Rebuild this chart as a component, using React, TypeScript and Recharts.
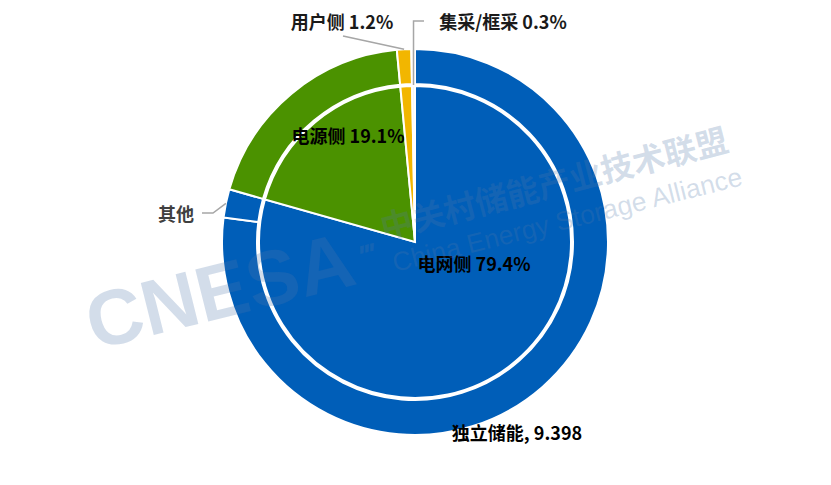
import React from 'react';
import { PieChart, Pie, Cell } from 'recharts';

// Inner pie: share by application side (%)
const innerNames = ['电网侧', '电源侧', '用户侧', '集采/框采'];
const innerShares = [79.4, 19.1, 1.2, 0.3];

// Outer ring: grid side split into independent storage and others (GWh)
const outerNames = ['独立储能', '其他', '电源侧', '用户侧', '集采/框采'];
const outerValues = [9.398, 0.29, 2.33, 0.146, 0.037];

const colorByName: Record<string, string> = {
  电网侧: '#005EB8',
  独立储能: '#005EB8',
  其他: '#005EB8',
  电源侧: '#4B9200',
  用户侧: '#F2B600',
  '集采/框采': '#F4F4F4',
};

const innerData = innerNames.map((name, i) => ({ name, value: innerShares[i] }));
const outerData = outerNames.map((name, i) => ({ name, value: outerValues[i] }));

const FONT = '"Noto Sans CJK SC", "Noto Sans", sans-serif';
const RAD = Math.PI / 180;
const OUTER_R = 193;
const INNER_R = 156;
const LINE = '#A6A6A6';

const pt = (cx: number, cy: number, r: number, a: number) => ({
  x: cx + r * Math.cos(-a * RAD),
  y: cy + r * Math.sin(-a * RAD),
});

const txt = (x: number, y: number, s: string, fill = '#000') => (
  <text
    x={x}
    y={y}
    textAnchor="middle"
    dominantBaseline="central"
    fontFamily={FONT}
    fontWeight="bold"
    fontSize={18}
    fill={fill}
  >
    {s}
  </text>
);

const innerLabel = (p: any) => {
  const { cx, cy, midAngle, name, value } = p;
  const s = `${name} ${value}%`;
  if (name === '电网侧') return <g>{txt(cx + 59, cy + 21, s)}</g>;
  if (name === '电源侧') return <g>{txt(cx - 67, cy - 107, s)}</g>;
  if (name === '用户侧') {
    const e = pt(cx, cy, OUTER_R, midAngle);
    return (
      <g>
        <polyline points={`${cx - 72},${cy - 206} ${e.x},${e.y}`} fill="none" stroke={LINE} strokeWidth={1.5} />
        {txt(cx - 73, cy - 221, s, '#1a1a1a')}
      </g>
    );
  }
  if (name === '集采/框采') {
    const e = pt(cx, cy, INNER_R + 1, midAngle);
    return (
      <g>
        <polyline points={`${cx + 9},${cy - 221} ${e.x},${cy - 221} ${e.x},${e.y}`} fill="none" stroke={LINE} strokeWidth={1.5} />
        {txt(cx + 88, cy - 221, s, '#1a1a1a')}
      </g>
    );
  }
  return null;
};

const outerLabel = (p: any) => {
  const { cx, cy, midAngle, name, value } = p;
  if (name === '独立储能') return <g>{txt(cx + 102, cy + 190, `${name}, ${value}`)}</g>;
  if (name === '其他') {
    const e = pt(cx, cy, OUTER_R, midAngle);
    return (
      <g>
        <polyline points={`${cx - 213},${cy - 29} ${cx - 202},${cy - 29} ${e.x},${e.y}`} fill="none" stroke={LINE} strokeWidth={1.5} />
        {txt(cx - 239, cy - 29, name, '#404040')}
      </g>
    );
  }
  return null;
};

const Watermark = () => (
  <svg
    width={831}
    height={485}
    style={{ position: 'absolute', left: 0, top: 0, pointerEvents: 'none' }}
  >
    <g fill="#5078AA" fillOpacity={0.25}>
      <text
        transform="translate(94,350) rotate(-14)"
        fontFamily='"Liberation Sans", Arial, sans-serif'
        fontWeight="bold"
        fontSize={78}
      >
        CNESA
      </text>
      <text
        transform="translate(358,268) rotate(-14) skewX(-15)"
        fontFamily='"Liberation Sans", Arial, sans-serif'
        fontWeight="bold"
        fontSize={30}
        letterSpacing={-2}
      >
        '''
      </text>
      <text
        transform="translate(384,240) rotate(-14.5)"
        fontFamily={FONT}
        fontWeight="bold"
        fontSize={32.5}
      >
        中关村储能产业技术联盟
      </text>
      <text
        transform="translate(395,272) rotate(-14)"
        fontFamily='"Liberation Sans", Arial, sans-serif'
        fontSize={26.5}
      >
        China Energy Storage Alliance
      </text>
    </g>
  </svg>
);

export default function App() {
  return (
    <div style={{ position: 'absolute', left: 0, top: 0, width: 831, height: 485, background: '#fff' }}>
      <PieChart width={831} height={485} margin={{ top: 0, right: 0, bottom: 0, left: 0 }}>
        <Pie
          data={innerData}
          dataKey="value"
          nameKey="name"
          cx={415}
          cy={242}
          innerRadius={0}
          outerRadius={INNER_R}
          startAngle={90}
          endAngle={-270}
          stroke="#fff"
          strokeWidth={2}
          label={innerLabel}
          labelLine={false}
          isAnimationActive={false}
        >
          {innerData.map((d) => (
            <Cell key={d.name} fill={colorByName[d.name]} />
          ))}
        </Pie>
        <Pie
          data={outerData}
          dataKey="value"
          nameKey="name"
          cx={415}
          cy={242}
          innerRadius={INNER_R + 2}
          outerRadius={OUTER_R}
          startAngle={90}
          endAngle={-270}
          stroke="#fff"
          strokeWidth={2}
          label={outerLabel}
          labelLine={false}
          isAnimationActive={false}
        >
          {outerData.map((d) => (
            <Cell key={d.name} fill={colorByName[d.name]} />
          ))}
        </Pie>
      </PieChart>
      <Watermark />
    </div>
  );
}
